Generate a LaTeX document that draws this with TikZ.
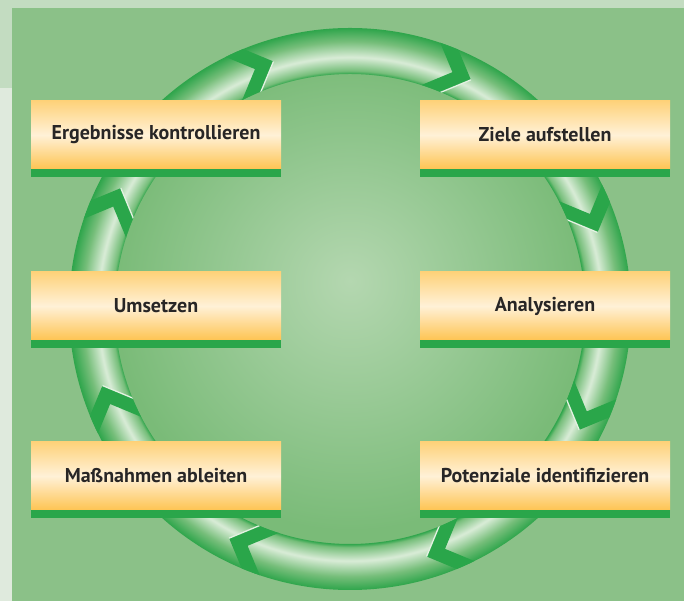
\documentclass[tikz,border=0pt]{standalone}
\usepackage{fontspec}
\setmainfont{PT Sans}
\usetikzlibrary{shapes,positioning,calc}
\definecolor{bgcolor}{RGB}{139,193,136}
\definecolor{stripcolor}{RGB}{195,220,193}
\definecolor{edgecolor}{RGB}{223,234,221}
\definecolor{ringdark}{RGB}{46,165,75}
\definecolor{ringlight}{RGB}{217,236,215}
\definecolor{ringmid}{RGB}{118,190,122}
\definecolor{diskcenter}{RGB}{180,215,176}
\definecolor{diskedge}{RGB}{122,187,120}
\definecolor{boxtop}{RGB}{254,210,122}
\definecolor{boxmid}{RGB}{255,241,215}
\definecolor{boxbottom}{RGB}{254,196,82}
\definecolor{barcolor}{RGB}{42,166,74}
\definecolor{textcolor}{RGB}{40,38,38}
\definecolor{chevroncolor}{RGB}{42,166,74}
\definecolor{glintcolor}{RGB}{228,242,226}

% the path box is mapped to the inner 50bp of the shading
\pgfdeclareradialshading{ringshade}{\pgfpointorigin}{color(0bp)=(ringdark); color(20.9bp)=(ringdark); color(21.2bp)=(ringmid); color(22.4bp)=(ringlight); color(23.8bp)=(ringmid); color(25bp)=(ringdark); color(50bp)=(ringdark)}
\pgfdeclareradialshading{diskshade}{\pgfpoint{0bp}{3bp}}{color(0bp)=(diskcenter); color(25bp)=(diskedge); color(50bp)=(diskedge)}

\begin{document}
\begin{tikzpicture}[
        x=1pt, y=1pt,
        stage/.style={rectangle, minimum width=250pt, minimum height=68pt, inner sep=0pt,
            top color=boxtop, bottom color=boxbottom, middle color=boxmid,
            font=\fontsize{20}{22}\selectfont\bfseries, text=textcolor},
        greenbar/.style={fill=barcolor},
        chevron/.style={fill=chevroncolor},
        glint/.style={draw=glintcolor, line width=1.3pt}
    ]
        \useasboundingbox (0,0) rectangle (684,601);

        % Background
        \fill[edgecolor] (0,0) rectangle (684,601);
        \fill[stripcolor] (0,513) rectangle (684,601);
        \fill[bgcolor] (12,0) rectangle (684,593);

        % Disk and ring
        \coordinate (center) at (350,292);
        \shade[shading=diskshade] (center) circle (236);
        \shade[shading=ringshade, even odd rule] (center) circle (281) (center) circle (235);

        % Chevrons on the ring
        \begin{scope}[even odd rule]
            \clip (center) circle (281) (center) circle (235);
            \foreach \a in {22.5,67.5,...,337.5} {
                \begin{scope}[shift={(center)}, rotate=\a]
                    \fill[chevron] (258,-24) -- (288,6) -- (288,26) -- (258,-4) -- (228,26) -- (228,6) -- cycle;
                    \draw[glint] (258,-24) -- (228,6);
                \end{scope}
            }
        \end{scope}

        % Left column
        \node[stage] (ergebnisse) at (156,466) {Ergebnisse kontrollieren};
        \fill[greenbar] (ergebnisse.south west) rectangle ++(250,-8);
        \node[stage] (umsetzen) at (156,295) {Umsetzen};
        \fill[greenbar] (umsetzen.south west) rectangle ++(250,-8);
        \node[stage] (massnahmen) at (156,125) {Maßnahmen ableiten};
        \fill[greenbar] (massnahmen.south west) rectangle ++(250,-8);

        % Right column
        \node[stage] (ziele) at (545,466) {Ziele aufstellen};
        \fill[greenbar] (ziele.south west) rectangle ++(250,-8);
        \node[stage] (analysieren) at (545,295) {Analysieren};
        \fill[greenbar] (analysieren.south west) rectangle ++(250,-8);
        \node[stage] (potenziale) at (545,125) {Potenziale identifizieren};
        \fill[greenbar] (potenziale.south west) rectangle ++(250,-8);

    \end{tikzpicture}
\end{document}
